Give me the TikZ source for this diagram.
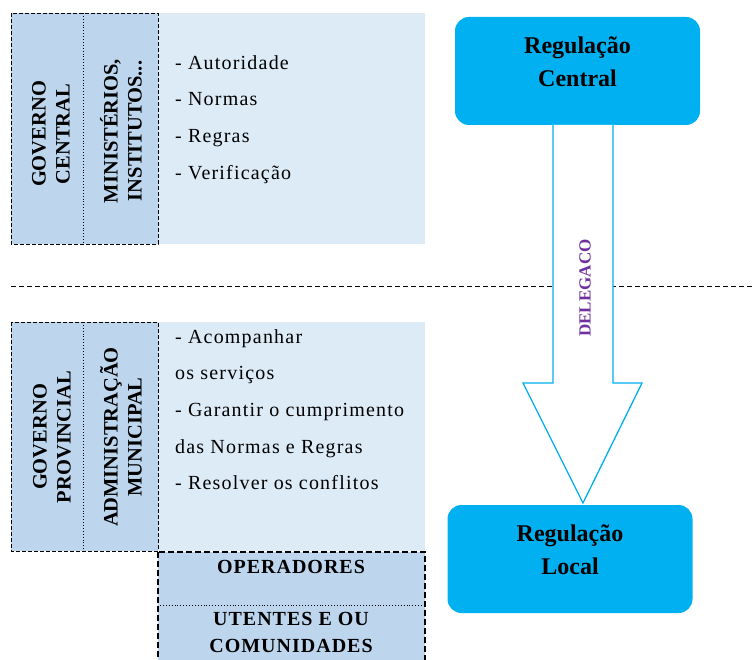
\documentclass[tikz,border=0pt]{standalone}
\usepackage{fontspec}
\setmainfont{Liberation Serif}
\usetikzlibrary{calc}
\definecolor{deepband}{RGB}{189,214,238}
\definecolor{paleband}{RGB}{221,235,247}
\definecolor{regblue}{RGB}{0,176,240}
\definecolor{delegpurple}{RGB}{112,48,160}
\tikzset{
  band/.style={fill=paleband, draw=none},
  sidebox/.style={fill=deepband, draw=black, line width=0.8pt, dash pattern=on 4pt off 2pt},
  opbox/.style={fill=deepband, draw=black, line width=1.6pt, dash pattern=on 6pt off 3pt},
  divider/.style={draw=black, line width=0.9pt, dotted},
  vlabel/.style={rotate=90, align=center, font=\fontsize{20.5}{24}\selectfont\bfseries, inner sep=0pt},
  item/.style={anchor=base west, font=\fontsize{20}{24}\selectfont\addfontfeatures{LetterSpace=6}, inner sep=0pt},
  oplabel/.style={anchor=base, font=\fontsize{20}{24}\selectfont\bfseries\addfontfeatures{LetterSpace=5}, inner sep=0pt},
  regbox/.style={fill=regblue, draw=none, rounded corners=14pt, minimum width=245pt, minimum height=108pt, inner sep=0pt},
  regtext/.style={align=center, font=\fontsize{24}{33}\selectfont\bfseries, inner sep=0pt},
  bigarrow/.style={fill=white, draw=regblue, line width=1.3pt, line join=miter},
}
\begin{document}
\begin{tikzpicture}[x=1pt,y=-1pt]
\useasboundingbox (0,0) rectangle (755,660);

% upper tier: central government
\fill[band] (158,13) rectangle (425,244);
\draw[sidebox] (11,13) rectangle (158,244);
\draw[divider] (83,13) -- (83,244);
\node[vlabel] (gc) at (51,134) {GOVERNO\\CENTRAL};
\node[vlabel] (mi) at (121,131) {MINISTÉRIOS,\\INSTITUTOS...};
\node[item] (i1) at (175,70) {- Autoridade};
\node[item] (i2) at (175,106) {- Normas};
\node[item] (i3) at (175,143) {- Regras};
\node[item] (i4) at (175,180) {- Verificação};

% separator between the two tiers
\draw[black, line width=0.9pt, dash pattern=on 5pt off 3pt] (11,286) -- (755,286);

% lower tier: provincial and municipal
\fill[band] (158,322) rectangle (425,551);
\draw[sidebox] (11,322) rectangle (158,551);
\draw[divider] (83,322) -- (83,551);
\node[vlabel] (gp) at (52,437) {GOVERNO\\PROVINCIAL};
\node[vlabel] (am) at (121,437) {ADMINISTRAÇÃO\\MUNICIPAL};
\node[item] (j1) at (175,343) {- Acompanhar};
\node[item] (j2) at (175,379) {os serviços};
\node[item] (j3) at (175,416) {- Garantir o cumprimento};
\node[item] (j4) at (175,453) {das Normas e Regras};
\node[item] (j5) at (175,489) {- Resolver os conflitos};

% operators and users
\draw[opbox] (158,552) rectangle (425,662);
\draw[divider] (160,605) -- (423,605);
\node[oplabel] (op) at (291,573) {OPERADORES};
\node[oplabel] (ut) at (291,625) {UTENTES E OU};
\node[oplabel] (cm) at (291,652) {COMUNIDADES};

% regulation levels
\node[regbox] (rc) at (577.5,71) {};
\node[regtext] (rct) at ($(rc.center)+(0,-9)$) {Regulação\\Central};
\node[regbox] (rl) at (570,559) {};
\node[regtext] (rlt) at ($(rl.center)+(0,-9)$) {Regulação\\Local};

% delegation arrow
\coordinate (atop) at (583,125);
\coordinate (atip) at (583,503);
\draw[bigarrow] ($(atop)+(-30,0)$) -- ($(atop)+(-30,258)$) -- ($(atop)+(-60,258)$)
  -- (atip) -- ($(atop)+(59,258)$) -- ($(atop)+(30,258)$) -- ($(atop)+(30,0)$);
\node[rotate=90, text=delegpurple, font=\fontsize{17}{20}\selectfont\bfseries, inner sep=0pt] (dl) at (585,288) {DELEGACO};
\end{tikzpicture}
\end{document}
